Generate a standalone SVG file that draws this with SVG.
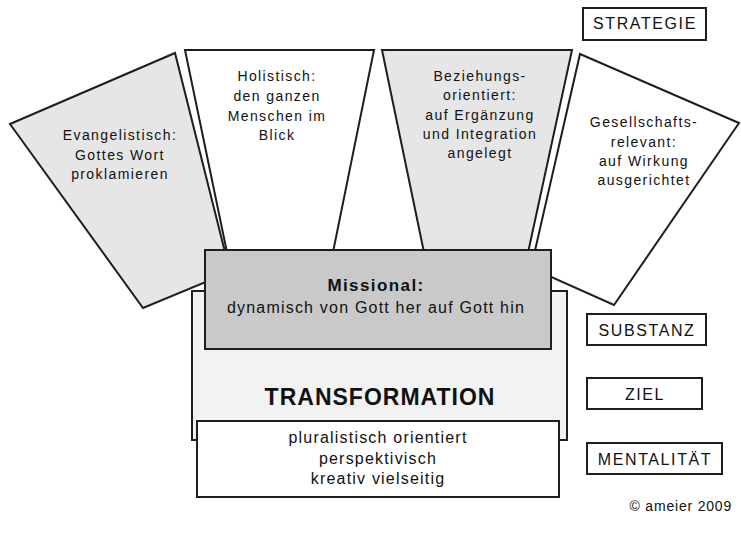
<svg xmlns="http://www.w3.org/2000/svg" width="741" height="539" viewBox="0 0 741 539">
<style>
.shape{stroke:#1e1e1e;stroke-width:2;stroke-linejoin:miter}
.t{font-family:"Liberation Sans",Arial,sans-serif;fill:#111;text-anchor:middle}
.s14{font-size:14px;letter-spacing:1.4px}
.s16{font-size:16px;letter-spacing:1.2px}
.lbl{font-size:16px;letter-spacing:1.6px}
</style>
<rect width="741" height="539" fill="#ffffff"/>
<g id="evangelistisch">
<polygon class="shape" points="10,124 175,53 230,272 143,308" fill="#e6e6e6"/>
<text class="t s14" x="120" y="140">Evangelistisch:</text>
<text class="t s14" x="120" y="160">Gottes Wort</text>
<text class="t s14" x="120" y="179">proklamieren</text>
</g>
<g id="holistisch">
<polygon class="shape" points="185,50 374,50 331,262 229,262" fill="#ffffff"/>
<text class="t s14" x="277" y="81">Holistisch:</text>
<text class="t s14" x="277" y="101">den ganzen</text>
<text class="t s14" x="277" y="121">Menschen im</text>
<text class="t s14" x="277" y="140">Blick</text>
</g>
<g id="beziehungsorientiert">
<polygon class="shape" points="382,50 572,50 526,262 426,262" fill="#e6e6e6"/>
<text class="t s14" x="480" y="81">Beziehungs-</text>
<text class="t s14" x="480" y="100">orientiert:</text>
<text class="t s14" x="480" y="120">auf Ergänzung</text>
<text class="t s14" x="480" y="139">und Integration</text>
<text class="t s14" x="480" y="158">angelegt</text>
</g>
<g id="gesellschaftsrelevant">
<polygon class="shape" points="580,54 739,123 614,305 531,268" fill="#ffffff"/>
<text class="t s14" x="644" y="127">Gesellschafts-</text>
<text class="t s14" x="644" y="147">relevant:</text>
<text class="t s14" x="644" y="166">auf Wirkung</text>
<text class="t s14" x="644" y="185">ausgerichtet</text>
</g>
<g id="transformation">
<rect class="shape" x="192" y="291" width="375" height="149" fill="#f2f2f2"/>
<text class="t" x="380" y="405" style="font-size:23px;font-weight:bold;letter-spacing:1px">TRANSFORMATION</text>
</g>
<g id="missional">
<rect class="shape" x="205" y="250" width="346" height="99" fill="#c9c9c9"/>
<text class="t" x="376" y="291" style="font-size:17px;font-weight:bold;letter-spacing:1.4px">Missional:</text>
<text class="t s16" x="376" y="313">dynamisch von Gott her auf Gott hin</text>
</g>
<g id="mentalitaet-box">
<rect class="shape" x="197" y="421" width="362" height="76" fill="#ffffff"/>
<text class="t s16" x="378" y="443">pluralistisch orientiert</text>
<text class="t s16" x="378" y="464">perspektivisch</text>
<text class="t s16" x="378" y="484">kreativ vielseitig</text>
</g>
<g id="strategie">
<rect class="shape" x="583" y="8" width="123" height="32" fill="#ffffff"/>
<text class="t lbl" x="645" y="29">STRATEGIE</text>
</g>
<g id="substanz">
<rect class="shape" x="587" y="314" width="119" height="31" fill="#ffffff"/>
<text class="t lbl" x="647" y="336">SUBSTANZ</text>
</g>
<g id="ziel">
<rect class="shape" x="587" y="378" width="115" height="31" fill="#ffffff"/>
<text class="t lbl" x="645" y="400">ZIEL</text>
</g>
<g id="mentalitaet">
<rect class="shape" x="587" y="443" width="135" height="31" fill="#ffffff"/>
<text class="t lbl" x="655" y="465">MENTALITÄT</text>
</g>
<g id="connectors"></g>
<text class="t" x="732" y="511" style="font-size:14px;letter-spacing:0.8px;text-anchor:end">© ameier 2009</text>
</svg>
